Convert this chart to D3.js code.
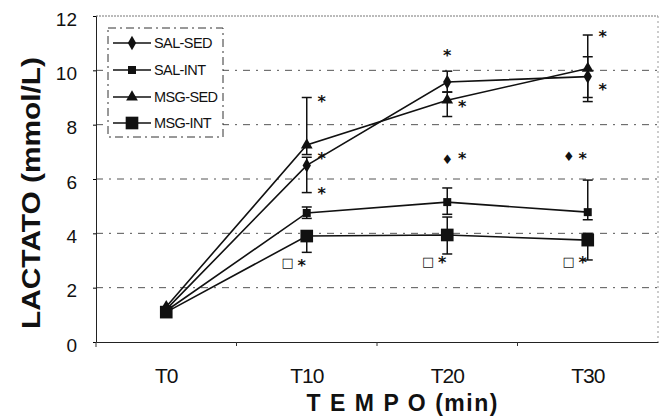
<!DOCTYPE html>
<html><head><meta charset="utf-8">
<script src="https://cdn.jsdelivr.net/npm/d3@7"></script>
<style>body{margin:0;background:#fff}svg{display:block}</style>
</head><body><svg id="c" width="666" height="420"></svg>
<script>
const categories = ["T0", "T10", "T20", "T30"];
const yTicks = [0, 2, 4, 6, 8, 10, 12];
const seriesNames = ["SAL-SED", "SAL-INT", "MSG-SED", "MSG-INT"];
const salSed = [1.2, 6.5, 9.57, 9.77];
const salInt = [1.15, 4.75, 5.15, 4.78];
const msgSed = [1.3, 7.25, 8.9, 10.07];
const msgInt = [1.1, 3.9, 3.94, 3.75];
// error bars: [category, lower, upper]
const salSedErr = [[1, 5.5, 6.8], [2, 9.2, 9.97], [3, 8.85, 10.5]];
const salIntErr = [[1, 4.55, 4.97], [2, 4.7, 5.67], [3, 4.5, 5.96]];
const msgSedErr = [[1, 6.9, 9.0], [2, 8.3, 9.2], [3, 9.0, 11.3]];
const msgIntErr = [[1, 3.3, 4.0], [2, 3.24, 4.6], [3, 3.02, 4.0]];
// significance marks: [category, value, symbol, side]
const marks = [
  [1, 9.0, "*", "right"], [1, 6.88, "*", "right"], [1, 5.59, "*", "right"],
  [1, 2.94, "□", "farleft"], [1, 2.94, "*", "left"],
  [2, 10.67, "*", "center"], [2, 8.8, "*", "right"],
  [2, 6.75, "♦", "center"], [2, 6.88, "*", "right"],
  [2, 2.98, "□", "farleft"], [2, 3.05, "*", "left"],
  [3, 11.37, "*", "right"], [3, 9.42, "*", "right"],
  [3, 6.85, "♦", "farleft"], [3, 6.88, "*", "left"],
  [3, 2.98, "□", "farleft"], [3, 3.05, "*", "left"]
];

const svg = d3.select("#c");
const x = d3.scaleBand().domain(categories).range([96, 658]);
const y = d3.scaleLinear().domain([0, 12]).range([342, 16]);
const cx = i => x(categories[i]) + x.bandwidth() / 2;
const font = "Arial, 'Liberation Sans', sans-serif";

// grid
svg.append("g").selectAll("line").data(yTicks.filter(t => t > 0 && t < 12)).join("line")
  .attr("x1", 96).attr("x2", 658).attr("y1", d => y(d)).attr("y2", d => y(d))
  .attr("stroke", "#555").attr("stroke-width", 1).attr("stroke-dasharray", "7,6,2,6");
// top and right frame
svg.append("line").attr("x1", 96).attr("x2", 658).attr("y1", y(12)).attr("y2", y(12))
  .attr("stroke", "#777").attr("stroke-dasharray", "2,1");
svg.append("line").attr("x1", 658).attr("x2", 658).attr("y1", y(12)).attr("y2", y(0))
  .attr("stroke", "#999").attr("stroke-dasharray", "2,3");

// axes
const yAxis = svg.append("g").attr("transform", "translate(96,0)")
  .call(d3.axisLeft(y).tickValues(yTicks).tickSize(3).tickPadding(16));
yAxis.select(".domain").attr("stroke", "#222");
yAxis.selectAll("text").attr("font-family", font)
  .attr("font-size", 19).attr("fill", "#111").attr("dy", "0.48em");
const xAxis = svg.append("g").attr("transform", "translate(0,342)")
  .call(d3.axisBottom(x).tickSize(0).tickPadding(26));
xAxis.select(".domain").attr("stroke", "#222");
xAxis.selectAll("text").attr("font-family", font)
  .attr("font-size", 21).attr("letter-spacing", "-1px").attr("fill", "#111");
svg.append("g").selectAll("line").data([1, 2, 3]).join("line")
  .attr("x1", d => x(categories[d])).attr("x2", d => x(categories[d]))
  .attr("y1", 342).attr("y2", 346).attr("stroke", "#333");
svg.append("line").attr("x1", 96).attr("x2", 96).attr("y1", 342).attr("y2", 347).attr("stroke", "#333");

// titles
svg.append("text").attr("transform", "translate(40,193) rotate(-90)")
  .attr("text-anchor", "middle").attr("font-family", font)
  .attr("font-weight", "bold").attr("font-size", 25).attr("fill", "#111")
  .attr("textLength", 272).attr("lengthAdjust", "spacingAndGlyphs").text("LACTATO (mmol/L)");
svg.append("text").attr("x", 402).attr("y", 411)
  .attr("text-anchor", "middle").attr("font-family", font)
  .attr("font-weight", "bold").attr("font-size", 23).attr("fill", "#111")
  .attr("textLength", 191).attr("lengthAdjust", "spacing").text("T E M P O (min)");

const series = [
  {name: seriesNames[0], vals: salSed, err: salSedErr, sym: d3.symbolDiamond, size: 60},
  {name: seriesNames[1], vals: salInt, err: salIntErr, sym: d3.symbolSquare, size: 64},
  {name: seriesNames[2], vals: msgSed, err: msgSedErr, sym: d3.symbolTriangle, size: 60},
  {name: seriesNames[3], vals: msgInt, err: msgIntErr, sym: d3.symbolSquare, size: 160}
];

// error bars
series.forEach(s => {
  const g = svg.append("g").attr("stroke", "#111").attr("stroke-width", 1.5);
  g.selectAll("line.v").data(s.err).join("line").attr("class", "v")
    .attr("x1", d => cx(d[0])).attr("x2", d => cx(d[0]))
    .attr("y1", d => y(d[1])).attr("y2", d => y(d[2]));
  g.selectAll("line.lo").data(s.err).join("line").attr("class", "lo")
    .attr("x1", d => cx(d[0]) - 5).attr("x2", d => cx(d[0]) + 5)
    .attr("y1", d => y(d[1])).attr("y2", d => y(d[1]));
  g.selectAll("line.hi").data(s.err).join("line").attr("class", "hi")
    .attr("x1", d => cx(d[0]) - 5).attr("x2", d => cx(d[0]) + 5)
    .attr("y1", d => y(d[2])).attr("y2", d => y(d[2]));
});

// lines & markers
const line = d3.line().x((d, i) => cx(i)).y(d => y(d));
series.forEach(s => {
  svg.append("path").datum(s.vals).attr("d", line)
    .attr("fill", "none").attr("stroke", "#111").attr("stroke-width", 1.6);
  svg.append("g").selectAll("path").data(s.vals).join("path")
    .attr("transform", (d, i) => `translate(${cx(i)},${y(d)})`)
    .attr("d", d3.symbol(s.sym, s.size)).attr("fill", "#111");
});

// significance marks
const off = {right: 15, center: 0, left: -5, farleft: -19};
svg.append("g").selectAll("text").data(marks).join("text")
  .attr("x", d => cx(d[0]) + off[d[3]])
  .attr("y", d => y(d[1]) + (d[2] === "*" ? 9 : 5))
  .attr("text-anchor", "middle").attr("font-family", "'DejaVu Sans', sans-serif")
  .attr("font-weight", "bold")
  .attr("font-size", d => d[2] === "*" ? 16 : 13).attr("fill", "#111").text(d => d[2]);

// legend
const lg = svg.append("g");
lg.append("rect").attr("x", 108).attr("y", 28).attr("width", 115).attr("height", 109)
  .attr("fill", "#fff").attr("stroke", "#333").attr("stroke-dasharray", "8,4,2,4");
const ly = [43, 70, 97, 123];
series.forEach((s, i) => {
  lg.append("line").attr("x1", 113).attr("x2", 151).attr("y1", ly[i]).attr("y2", ly[i])
    .attr("stroke", "#111").attr("stroke-width", 1.6);
  lg.append("path").attr("transform", `translate(132,${ly[i]})`)
    .attr("d", d3.symbol(s.sym, s.size)).attr("fill", "#111");
  lg.append("text").attr("x", 154).attr("y", ly[i] + 5)
    .attr("font-family", font).attr("font-size", 14.5)
    .attr("letter-spacing", "-0.6px").attr("fill", "#111").text(s.name);
});
</script></body></html>
